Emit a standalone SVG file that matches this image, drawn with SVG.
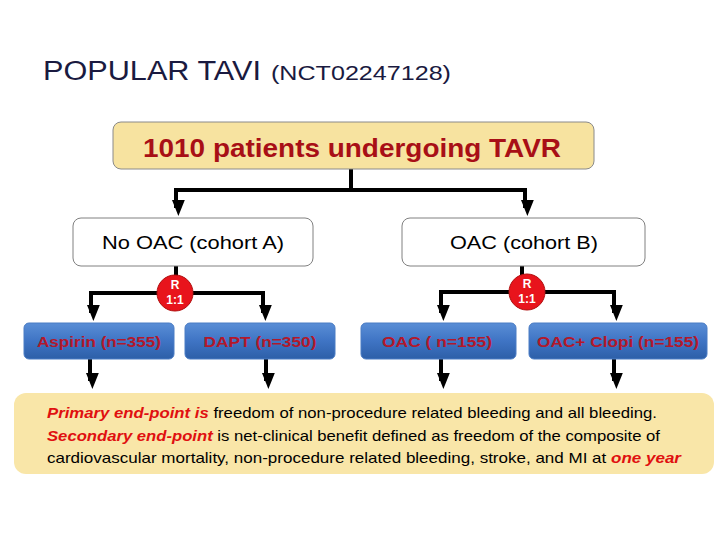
<svg xmlns="http://www.w3.org/2000/svg" width="720" height="540" viewBox="0 0 720 540">
<defs>
<marker id="ah" markerWidth="4" markerHeight="4" refX="2" refY="2.6" orient="auto-start-reverse" markerUnits="strokeWidth" viewBox="0 0 4 4">
<path d="M0,0.4 L4,2 L0,3.6 Z" fill="#000"/>
</marker>
<linearGradient id="blue" x1="0" y1="0" x2="0" y2="1">
<stop offset="0" stop-color="#5a8ed6"/>
<stop offset="0.5" stop-color="#3f74c4"/>
<stop offset="1" stop-color="#2d5fa8"/>
</linearGradient>
<style>
text{font-family:"Liberation Sans","Open Sans",sans-serif}
.cn{fill:none;stroke:#000;stroke-width:4}
.ar{fill:none;stroke:#000;stroke-width:4;marker-end:url(#ah)}
.wb{fill:#fff;stroke:#808080;stroke-width:1}
.bb{fill:url(#blue);stroke:#4a7cc4;stroke-width:1}
.bt{font-size:15px;font-weight:bold;fill:#b2182b;text-anchor:middle}
.rc{fill:#e8141c;stroke:#b01010;stroke-width:1}
.rt{font-size:12px;font-weight:bold;fill:#fff;text-anchor:middle}
.red{fill:#e01010;font-style:italic;font-weight:bold}
</style>
</defs>
<rect width="720" height="540" fill="#fff"/>
<g id="title">
<text x="43" y="80" font-size="27" fill="#1a1a40" textLength="218" lengthAdjust="spacingAndGlyphs">POPULAR TAVI</text>
<text x="271" y="80" font-size="20" fill="#1a1a40" textLength="180" lengthAdjust="spacingAndGlyphs">(NCT02247128)</text>
</g>
<g id="connectors">
<path class="cn" d="M351,169 V190 M174,190 H527"/>
<path class="ar" d="M176,190 V208"/>
<path class="ar" d="M525,190 V208"/>
<path class="cn" d="M176,266 V277 M522,266 V275"/>
<path class="cn" d="M91,293 H158 M193,293 H263"/>
<path class="ar" d="M91,291 V313"/>
<path class="ar" d="M263,291 V313"/>
<path class="cn" d="M441,292 H509 M545,292 H615"/>
<path class="ar" d="M441,290 V313"/>
<path class="ar" d="M614,290 V313"/>
<path class="ar" d="M90,359 V381"/>
<path class="ar" d="M266,359 V381"/>
<path class="ar" d="M441,359 V381"/>
<path class="ar" d="M614,359 V381"/>
</g>
<g id="top">
<rect x="113" y="122" width="481" height="47" rx="8" fill="#f7e3a0" stroke="#8a8a8a" stroke-width="1"/>
<text x="352" y="157" font-size="26" font-weight="bold" fill="#a80f16" text-anchor="middle" textLength="418" lengthAdjust="spacingAndGlyphs">1010 patients undergoing TAVR</text>
</g>
<g id="cohortA">
<rect class="wb" x="73" y="218" width="240" height="48" rx="8"/>
<text x="193" y="249" font-size="19" fill="#000" text-anchor="middle" textLength="182" lengthAdjust="spacingAndGlyphs">No OAC (cohort A)</text>
</g>
<g id="cohortB">
<rect class="wb" x="402" y="218" width="243" height="48" rx="8"/>
<text x="524" y="249" font-size="19" fill="#000" text-anchor="middle" textLength="148" lengthAdjust="spacingAndGlyphs">OAC (cohort B)</text>
</g>
<g id="randA">
<circle class="rc" cx="175" cy="293" r="18"/>
<text class="rt" x="175" y="289">R</text>
<text class="rt" x="175" y="304">1:1</text>
</g>
<g id="randB">
<circle class="rc" cx="527" cy="292" r="18"/>
<text class="rt" x="527" y="288">R</text>
<text class="rt" x="527" y="303">1:1</text>
</g>
<g id="aspirin">
<rect class="bb" x="24" y="323" width="150" height="36" rx="5"/>
<text class="bt" x="99" y="347" textLength="124" lengthAdjust="spacingAndGlyphs">Aspirin (n=355)</text>
</g>
<g id="dapt">
<rect class="bb" x="185" y="323" width="150" height="36" rx="5"/>
<text class="bt" x="260" y="347" textLength="113" lengthAdjust="spacingAndGlyphs">DAPT (n=350)</text>
</g>
<g id="oac">
<rect class="bb" x="361" y="323" width="155" height="36" rx="5"/>
<text class="bt" x="437" y="347" textLength="110" lengthAdjust="spacingAndGlyphs">OAC ( n=155)</text>
</g>
<g id="oacclopi">
<rect class="bb" x="529" y="323" width="178" height="36" rx="5"/>
<text class="bt" x="618" y="347" textLength="162" lengthAdjust="spacingAndGlyphs">OAC+ Clopi (n=155)</text>
</g>
<g id="endpoints">
<rect x="14" y="393" width="700" height="81" rx="12" fill="#f9e6a8"/>
<text x="47" y="418" font-size="14.5" fill="#000" textLength="610" lengthAdjust="spacingAndGlyphs"><tspan class="red">Primary end-point is</tspan> freedom of non-procedure related bleeding and all bleeding.</text>
<text x="47" y="441" font-size="14.5" fill="#000" textLength="613" lengthAdjust="spacingAndGlyphs"><tspan class="red">Secondary end-point</tspan> is net-clinical benefit defined as freedom of the composite of</text>
<text x="47" y="463" font-size="14.5" fill="#000" textLength="634" lengthAdjust="spacingAndGlyphs">cardiovascular mortality, non-procedure related bleeding, stroke, and MI at <tspan class="red">one year</tspan></text>
</g>
</svg>
